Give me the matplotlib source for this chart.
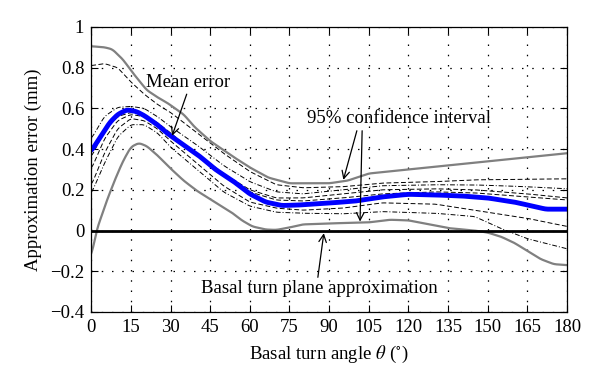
"""Approximation error of the basal turn plane vs. basal turn angle."""

import numpy as np
import matplotlib
matplotlib.use('Agg')
import matplotlib.pyplot as plt

# mean error (blue)
mean_x = [0, 4, 7, 10, 13.5, 17, 20, 25, 29, 35, 41, 47, 54, 60, 66, 72, 78,
          90, 100, 110, 120, 130, 140, 150, 160, 167, 172, 180]
mean_y = [0.39, 0.47, 0.53, 0.57, 0.593, 0.585, 0.565, 0.52, 0.475, 0.42,
          0.365, 0.30, 0.24, 0.18, 0.14, 0.123, 0.125, 0.135, 0.145, 0.165,
          0.178, 0.175, 0.17, 0.16, 0.14, 0.12, 0.105, 0.105]

# 95% confidence interval (grey)
upper_x = [0, 5, 8, 12, 16, 21, 25, 29, 35, 39, 45, 54, 60, 67, 75, 90, 97,
           105, 120, 135, 150, 165, 180]
upper_y = [0.905, 0.90, 0.89, 0.84, 0.77, 0.69, 0.655, 0.625, 0.57, 0.51,
           0.44, 0.36, 0.31, 0.26, 0.232, 0.232, 0.245, 0.28, 0.30, 0.32,
           0.34, 0.36, 0.38]
lower_x = [0, 2, 6, 9, 12, 15, 18, 21, 25, 30, 35, 40, 48, 53, 57, 61, 66,
           70, 75, 80, 90, 105, 113, 120, 128, 135, 145, 150, 155, 160, 165,
           170, 175, 180]
lower_y = [-0.13, 0.0, 0.15, 0.25, 0.34, 0.41, 0.43, 0.415, 0.37, 0.305,
           0.245, 0.195, 0.13, 0.09, 0.05, 0.02, 0.005, 0.003, 0.015, 0.03,
           0.035, 0.04, 0.053, 0.05, 0.03, 0.012, 0.0, -0.01, -0.03, -0.06,
           -0.10, -0.14, -0.165, -0.17]

# individual cases (dashed)
case_x = [0, 5, 10, 15, 20, 25, 30, 40, 50, 60, 70, 80, 95, 110, 130, 145,
          155, 165, 180]
case_1 = [0.81, 0.82, 0.80, 0.73, 0.67, 0.62, 0.58, 0.48, 0.38, 0.29, 0.225,
          0.21, 0.215, 0.233, 0.24, 0.249, 0.25, 0.252, 0.254]
case_2 = [0.45, 0.56, 0.605, 0.61, 0.60, 0.56, 0.51, 0.42, 0.32, 0.24, 0.19,
          0.18, 0.20, 0.22, 0.225, 0.224, 0.22, 0.215, 0.205]
case_3 = [0.30, 0.45, 0.54, 0.57, 0.56, 0.52, 0.47, 0.38, 0.28, 0.20, 0.16,
          0.16, 0.18, 0.20, 0.205, 0.20, 0.19, 0.18, 0.16]
case_4 = [0.22, 0.38, 0.50, 0.55, 0.54, 0.50, 0.44, 0.33, 0.22, 0.14, 0.11,
          0.10, 0.11, 0.136, 0.13, 0.10, 0.08, 0.06, 0.02]
case_5 = [0.18, 0.33, 0.46, 0.52, 0.52, 0.48, 0.41, 0.30, 0.19, 0.12, 0.09,
          0.085, 0.082, 0.093, 0.085, 0.069, 0.01, -0.04, -0.09]
case_6 = [0.36, 0.49, 0.56, 0.58, 0.57, 0.53, 0.48, 0.37, 0.27, 0.19, 0.15,
          0.145, 0.16, 0.18, 0.19, 0.185, 0.175, 0.165, 0.15]
cases = [case_1, case_2, case_3, case_4, case_5, case_6]

xticks = list(range(0, 181, 15))
yticks = [-0.4, -0.2, 0, 0.2, 0.4, 0.6, 0.8, 1]
ytick_labels = ['\u22120.4', '\u22120.2', '0', '0.2', '0.4', '0.6', '0.8', '1']

plt.rcParams['font.family'] = ['Liberation Serif', 'DejaVu Serif']
plt.rcParams['mathtext.fontset'] = 'stix'
plt.rcParams['font.size'] = 13.5

fig = plt.figure(figsize=(6, 3.9), dpi=100)
ax = fig.add_axes([0.152, 0.2, 0.793, 0.731])

xs = np.linspace(0, 180, 721)


def smooth(px, py):
    """Resample a hand-read polyline and soften its corners."""
    y = np.interp(xs, px, py)
    k = np.ones(9) / 9
    pad = np.pad(y, 4, mode='edge')
    return np.convolve(pad, k, mode='valid')


styles = ['--', '-.', '--', '--', '-.', '--']
for vals, ls in zip(cases, styles):
    ax.plot(xs, smooth(case_x, vals), color='black', lw=0.7,
            linestyle=ls, dashes=(5, 2.5) if ls == '--' else (5, 2, 1, 2))

ax.plot(xs, smooth(upper_x, upper_y), color='#808080', lw=1.6)
ax.plot(xs, smooth(lower_x, lower_y), color='#808080', lw=1.6)
ax.plot(xs, smooth(mean_x, mean_y), color='#0000ff', lw=3.5)
ax.axhline(0, color='black', lw=2)

ax.set_xlim(0, 180)
ax.set_ylim(-0.4, 1)
ax.set_xticks(xticks)
ax.set_yticks(yticks)
ax.set_yticklabels(ytick_labels)
ax.grid(True, color='black', lw=0.9, linestyle=(0, (1.2, 7)))
ax.tick_params(direction='in', top=True, right=True, length=5, width=0.8,
               labelsize=13.5, pad=5)
for s in ax.spines.values():
    s.set_linewidth(0.9)

ax.set_xlabel(r'Basal turn angle $\theta$ ($^{\circ}$)', fontsize=13.5,
              labelpad=6)
ax.set_ylabel('Approximation error (mm)', fontsize=13.5, labelpad=6)

arrow = dict(arrowstyle='->', color='black', lw=0.9,
             shrinkA=0, shrinkB=0)
ax.annotate('Mean error', xy=(30.6, 0.465), xytext=(36.5, 0.725),
            ha='center', va='center', fontsize=13.5,
            arrowprops=dict(arrow, relpos=(0.5, 0.0)))
ax.text(116.5, 0.55, '95% confidence interval', ha='center', va='center',
        fontsize=13.5)
ax.annotate('', xy=(95.4, 0.249), xytext=(100.5, 0.49),
            arrowprops=arrow)
ax.annotate('', xy=(101.7, 0.044), xytext=(102.5, 0.49),
            arrowprops=arrow)
ax.annotate('Basal turn plane approximation', xy=(88, -0.013),
            xytext=(86.5, -0.285), ha='center', va='center', fontsize=13.5,
            arrowprops=dict(arrow, relpos=(0.49, 1.0)))

plt.savefig('out.png', dpi=100)
plt.close()
